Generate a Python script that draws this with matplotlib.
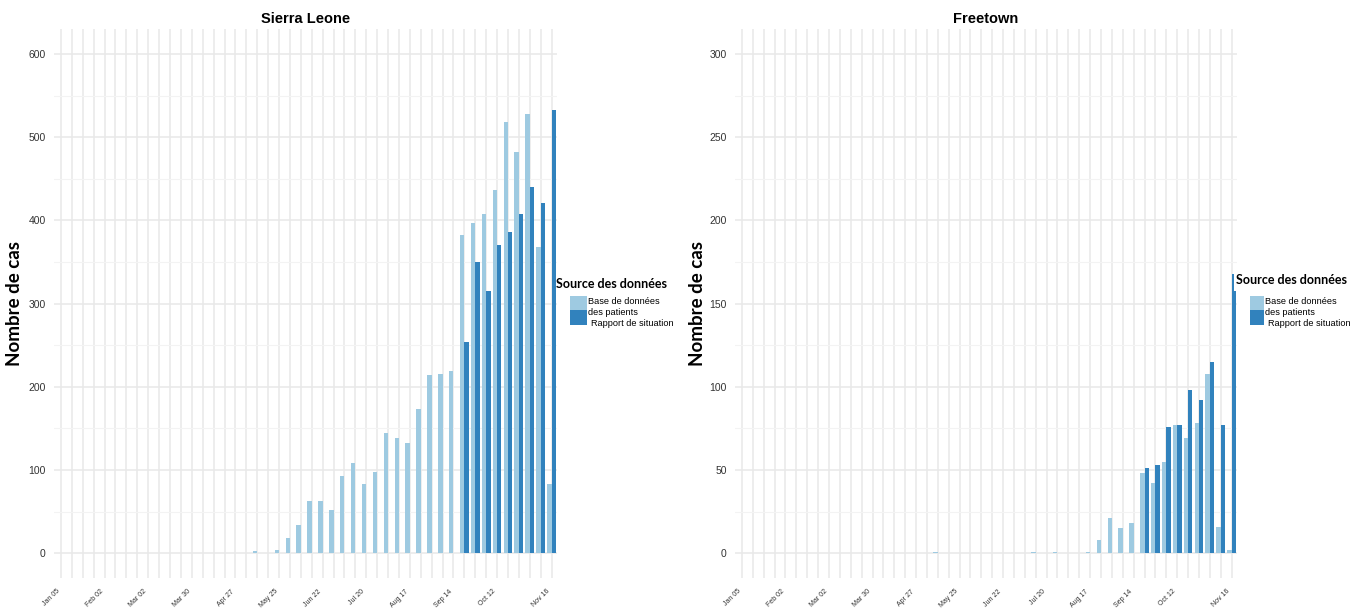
import matplotlib
matplotlib.use("Agg")
import matplotlib.pyplot as plt
import matplotlib.transforms as mtransforms
from matplotlib.patches import Rectangle
import numpy as np
import pandas as pd

# Weekly categories (week starting dates, 2014)
weeks = pd.date_range("2014-01-05", "2014-11-16", freq="7D")
shown_ticks = ["Jan 05", "Feb 02", "Mar 02", "Mar 30", "Apr 27", "May 25",
               "Jun 22", "Jul 20", "Aug 17", "Sep 14", "Oct 12", "Nov 16"]

# Sierra Leone weekly cases
sl_patients = [0, 0, 0, 0, 0, 0, 0, 0, 0, 0,
               0, 0, 0, 0, 0, 0, 0, 0, 3, 0,
               4, 19, 34, 63, 63, 52, 93, 109, 83, 98,
               145, 138, 133, 174, 214, 216, 219, 382, 397, 408,
               437, 518, 482, 528, 368, 83]
sl_sitrep = [0, 0, 0, 0, 0, 0, 0, 0, 0, 0,
             0, 0, 0, 0, 0, 0, 0, 0, 0, 0,
             0, 0, 0, 0, 0, 0, 0, 0, 0, 0,
             0, 0, 0, 0, 0, 0, 0, 254, 350, 315,
             371, 386, 408, 440, 421, 533]

# Freetown weekly cases
ft_patients = [0, 0, 0, 0, 0, 0, 0, 0, 0, 0,
               0, 0, 0, 0, 0, 0, 0, 0, 1, 0,
               0, 0, 0, 0, 0, 0, 0, 1, 0, 1,
               0, 0, 1, 8, 21, 15, 18, 48, 42, 55,
               77, 69, 78, 108, 16, 2]
ft_sitrep = [0, 0, 0, 0, 0, 0, 0, 0, 0, 0,
             0, 0, 0, 0, 0, 0, 0, 0, 0, 0,
             0, 0, 0, 0, 0, 0, 0, 0, 0, 0,
             0, 0, 0, 0, 0, 0, 0, 51, 53, 76,
             77, 98, 92, 115, 77, 168]

series_names = ["Base de données\ndes patients", "Rapport de situation"]
legend_title = "Source des données"
y_label = "Nombre de cas"
LIGHT = "#9ecae1"
DARK = "#3182bd"

W, H = 1360, 612
fig = plt.figure(figsize=(W / 100, H / 100), dpi=100)
fig.patch.set_facecolor("white")

SANS = ["Liberation Sans", "DejaVu Sans"]
NARROW = ["Liberation Sans Narrow", "Liberation Sans", "DejaVu Sans"]
HUMAN = ["Lato", "Open Sans", "DejaVu Sans"]


def px_box(x0, x1, y0, y1):
    return [x0 / W, 1 - y1 / H, (x1 - x0) / W, (y1 - y0) / H]


def fx(px):
    return px / W


def fy(py):
    return 1 - py / H


labels_fmt = list(weeks.strftime("%b %d"))
tick_idx = [labels_fmt.index(t) for t in shown_ticks]


def panel(box, title, pat, sit, ymax, ystep, ylab_x, legend_xy, rect_x,
          key_w):
    ax = fig.add_axes(box)
    x = np.arange(len(weeks))
    pat = np.asarray(pat, float)
    sit = np.asarray(sit, float)
    m1 = pat > 0
    m2 = sit > 0
    ax.bar(x[m1] - 0.2, pat[m1], width=0.4, color=LIGHT, linewidth=0, zorder=3)
    ax.bar(x[m2] + 0.2, sit[m2], width=0.4, color=DARK, linewidth=0, zorder=3)

    ax.set_xlim(-0.64, len(weeks) - 1 + 0.5)
    ax.set_ylim(-0.05 * ymax, 1.05 * ymax)
    ax.set_xticks(x)
    ax.set_xticklabels([labels_fmt[i] if i in tick_idx else "" for i in x],
                       rotation=45, ha="right", va="top", fontsize=5,
                       family=SANS, color="#333333")
    off = mtransforms.ScaledTranslation(3 / 100, 0, fig.dpi_scale_trans)
    for lab in ax.get_xticklabels():
        lab.set_transform(lab.get_transform() + off)
    ax.set_yticks(np.arange(0, ymax + 1, ystep))
    ax.set_yticks(np.arange(ystep / 2, ymax, ystep), minor=True)
    ax.set_yticklabels([str(int(v)) for v in np.arange(0, ymax + 1, ystep)],
                       fontsize=7.5, family=SANS, color="#333333")
    ax.tick_params(axis="both", which="both", length=0)
    ax.tick_params(axis="y", pad=6)
    ax.tick_params(axis="x", pad=7)
    ax.grid(True, which="major", color="#e8e8e8", linewidth=1.1, zorder=0)
    ax.grid(True, which="minor", axis="y", color="#f3f3f3", linewidth=0.8, zorder=0)
    ax.set_axisbelow(True)
    for s in ax.spines.values():
        s.set_visible(False)
    ax.set_title(title, fontsize=10.5, fontweight="bold", family=SANS, pad=4)
    fig.text(fx(ylab_x), fy(303), y_label, rotation=90, fontsize=13.5,
             fontweight="bold", family=HUMAN, ha="center", va="center")

    # Legend drawn in figure pixel space
    lx, ly = legend_xy
    fig.patches.append(Rectangle((fx(rect_x), fy(ly + 12)), 118 / W, 21 / H,
                                 transform=fig.transFigure, facecolor="white",
                                 edgecolor="none", zorder=5))
    fig.text(fx(lx), fy(ly + 1), legend_title, fontsize=9, fontweight="bold",
             family=HUMAN, va="center", ha="left", zorder=6)
    kx = lx + 14
    fig.patches.append(Rectangle((fx(kx), fy(309.5)), key_w / W, 14 / H,
                                 transform=fig.transFigure, facecolor=LIGHT,
                                 edgecolor="none", zorder=6))
    fig.patches.append(Rectangle((fx(kx), fy(324.5)), key_w / W, 15 / H,
                                 transform=fig.transFigure, facecolor=DARK,
                                 edgecolor="none", zorder=6))
    tx = kx + key_w + 1
    n1, n2 = series_names[0].split("\n")
    fig.text(fx(tx), fy(301.5), n1, fontsize=6.6, family=NARROW,
             va="center", ha="left", zorder=6)
    fig.text(fx(tx), fy(312.5), n2, fontsize=6.6, family=NARROW,
             va="center", ha="left", zorder=6)
    fig.text(fx(tx + 3), fy(323.5), series_names[1], fontsize=6.6,
             family=NARROW, va="center", ha="left", zorder=6)
    return ax


panel(px_box(54, 557, 29, 578.3), "Sierra Leone", sl_patients, sl_sitrep,
      600, 100, 15, (556, 283), 556.8, 17)
panel(px_box(735, 1237, 29, 578.3), "Freetown", ft_patients, ft_sitrep,
      300, 50, 698, (1236, 279), 1234, 14)

fig.savefig("out.png", dpi=100, facecolor="white")
